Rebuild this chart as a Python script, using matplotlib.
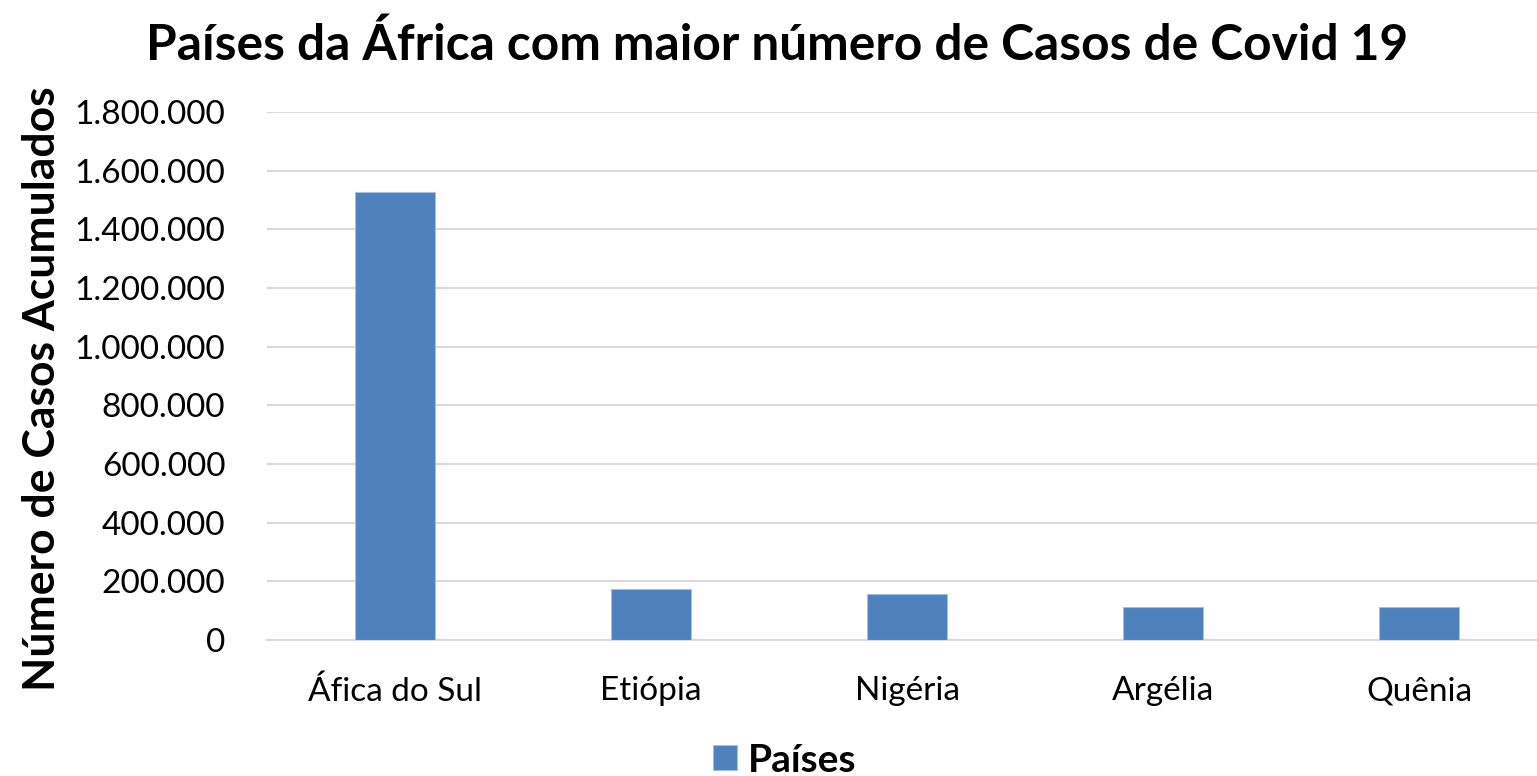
import matplotlib
matplotlib.use('Agg')
import matplotlib.pyplot as plt
from matplotlib.ticker import FuncFormatter

# data
paises = ['Áfica do Sul', 'Etiópia', 'Nigéria', 'Argélia', 'Quênia']
casos = [1527000, 174000, 158000, 113500, 111500]
yticks = list(range(0, 1800001, 200000))

plt.rcParams['font.family'] = ['Lato', 'DejaVu Sans']

fig = plt.figure(figsize=(15.37, 7.76), dpi=100)
ax = fig.add_axes([267/1537, 1 - 640/776, 1280/1537, 528/776])

x = range(len(paises))
ax.bar(x, casos, width=0.31, color='#4f81bd', edgecolor='#a6bfe0', linewidth=0.8,
       label='Países', zorder=3)

ax.set_xlim(-0.5, 4.5)
ax.set_ylim(0, 1800000)
ax.set_yticks(yticks)
ax.yaxis.set_major_formatter(FuncFormatter(lambda v, p: f'{int(v):,}'.replace(',', '.')))
ax.set_xticks(list(x))
ax.set_xticklabels(paises)
ax.tick_params(axis='both', length=0, labelsize=24)
ax.tick_params(axis='x', pad=26)
ax.tick_params(axis='y', pad=30)
ax.grid(axis='y', color='#d9d9d9', linewidth=1.5, zorder=0)
for s in ['top', 'right', 'left']:
    ax.spines[s].set_visible(False)
ax.spines['bottom'].set_color('#d9d9d9')
ax.spines['bottom'].set_linewidth(1.5)

fig.text(42/1537, 1 - 389/776, 'Número de Casos Acumulados', rotation=90,
         ha='center', va='center', fontsize=32, fontweight='bold')

fig.text(777/1537, 1 - 45/776, 'Países da África com maior número de Casos de Covid 19',
         ha='center', va='center', fontsize=35.7, fontweight='bold')

fig.legend(loc='center', bbox_to_anchor=(785/1537, 1 - 760/776), frameon=False,
           prop={'size': 28, 'weight': 'bold'}, handlelength=0.6, handleheight=0.6,
           handletextpad=0.3, borderpad=0)

fig.savefig('out.png', dpi=100)
